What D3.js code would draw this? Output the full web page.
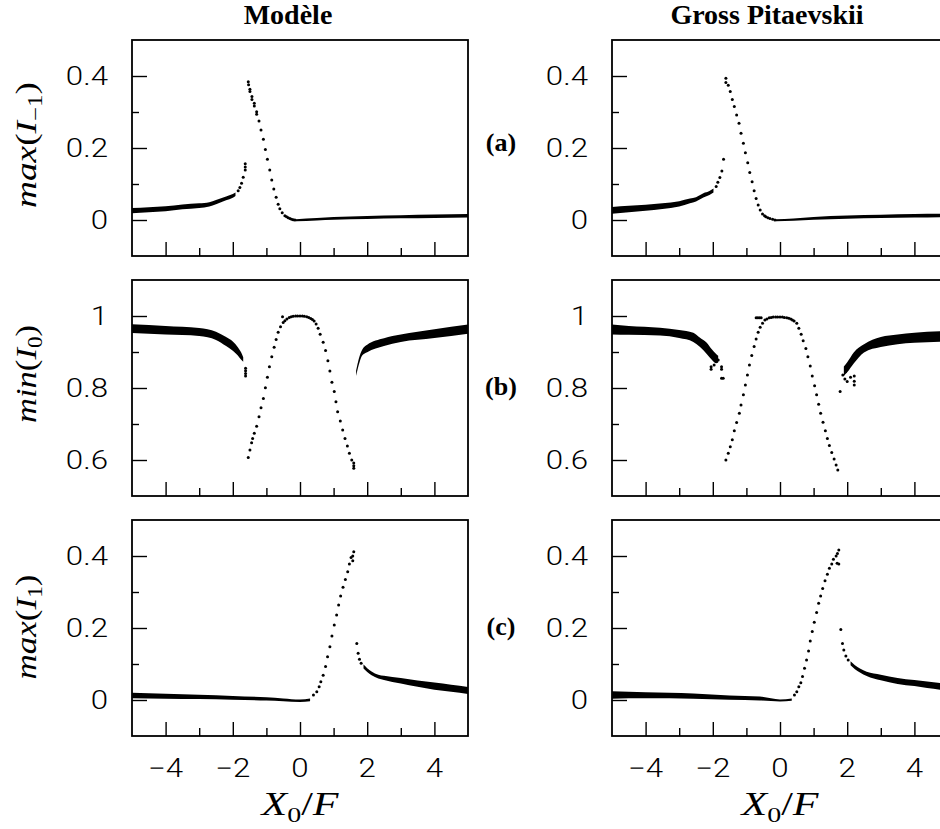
<!DOCTYPE html>
<html>
<head>
<meta charset="utf-8">
<script src="https://cdn.jsdelivr.net/npm/d3@7"></script>
<style>
  body { margin: 0; background: #fff; }
</style>
</head>
<body>
<script>
// ---- data: [x, y] dots and [x, yLow, yHigh] dense bands ----

const columnTitles = ["Modèle", "Gross Pitaevskii"];
const panelTags = ["(a)", "(b)", "(c)"];

const xMajor = [-4, -2, 0, 2, 4];
const xMinor = [-3, -1, 1, 3];
const yDomains = [[-0.1, 0.5], [0.5, 1.1], [-0.1, 0.5]];
const yMajor = [[0, 0.2, 0.4], [0.6, 0.8, 1], [0, 0.2, 0.4]];
const yMinor = [[0.1, 0.3], [0.7, 0.9], [0.1, 0.3]];

// (a) Modèle
const modA_bandL = [[-5,0.020,0.032],[-4.5,0.023,0.034],[-4,0.026,0.037],[-3.5,0.031,0.042],[-3,0.035,0.045],
  [-2.7,0.039,0.048],[-2.5,0.045,0.054],[-2.2,0.056,0.064],[-2.0,0.063,0.071],[-1.92,0.068,0.075]];
const modA_dots = [[-1.84,0.081],[-1.79,0.090],[-1.74,0.102],[-1.69,0.119],[-1.63,0.139],[-1.63,0.147],[-1.63,0.156],
  [-1.54,0.384],[-1.53,0.376],[-1.49,0.363],[-1.49,0.357],[-1.43,0.343],[-1.43,0.335],[-1.36,0.324],[-1.36,0.317],
  [-1.29,0.301],[-1.29,0.294],[-1.22,0.275],[-1.16,0.250],[-1.09,0.224],[-1.03,0.196],[-0.97,0.169],[-0.90,0.139],
  [-0.84,0.111],[-0.78,0.086],[-0.71,0.063],[-0.65,0.044],[-0.60,0.031],[-0.53,0.020],[-0.45,0.012],[-0.40,0.009],
  [-0.35,0.006],[-0.30,0.004],[-0.25,0.002],[-0.20,0.001],[-0.15,0.0]];
const modA_bandR = [[-0.12,-0.002,0.001],[0.5,0.000,0.004],[1,0.002,0.007],[2,0.004,0.010],[3,0.006,0.012],[4,0.007,0.014],[5,0.008,0.015]];

// (a) Gross Pitaevskii
const gpA_bandL = [[-5,0.019,0.035],[-4.5,0.023,0.038],[-4,0.027,0.041],[-3.5,0.032,0.045],[-3,0.039,0.051],
  [-2.68,0.048,0.058],[-2.5,0.053,0.062],[-2.28,0.064,0.073],[-2.1,0.071,0.079],[-1.98,0.078,0.086]];
const gpA_dots = [[-1.90,0.093],[-1.85,0.105],[-1.79,0.118],[-1.73,0.136],[-1.68,0.169],
  [-1.61,0.394],[-1.61,0.382],[-1.54,0.374],[-1.48,0.357],[-1.42,0.335],[-1.36,0.315],[-1.29,0.292],[-1.22,0.269],
  [-1.16,0.241],[-1.09,0.213],[-1.03,0.187],[-0.96,0.159],[-0.90,0.132],[-0.83,0.106],[-0.77,0.081],[-0.71,0.060],
  [-0.65,0.042],[-0.59,0.028],[-0.52,0.017],[-0.46,0.012],[-0.42,0.009],[-0.36,0.006],[-0.30,0.004],[-0.22,0.002],[-0.15,0.0]];
const gpA_bandR = [[-0.12,-0.002,0.001],[0.4,-0.001,0.003],[1,0.002,0.007],[2,0.005,0.011],[3,0.007,0.013],[4,0.008,0.015],[5,0.009,0.016]];

// (b) Modèle
const modB_bandL = [[-5,0.954,0.976],[-4,0.950,0.971],[-3,0.946,0.965],[-2.5,0.935,0.955],[-2.2,0.918,0.940],
  [-2.0,0.905,0.928],[-1.85,0.892,0.912],[-1.75,0.880,0.897],[-1.69,0.874,0.884]];
const modB_dots = [[-1.62,0.855],[-1.62,0.848],[-1.62,0.840],[-1.62,0.833],
  [-1.54,0.607],[-1.49,0.628],[-1.44,0.648],[-1.41,0.660],[-1.36,0.674],[-1.29,0.694],[-1.22,0.720],[-1.16,0.745],
  [-1.09,0.771],[-1.03,0.801],[-0.97,0.830],[-0.91,0.859],[-0.84,0.887],[-0.77,0.913],[-0.71,0.935],[-0.65,0.955],
  [-0.58,0.970],[-0.52,0.998],[-0.50,0.982],[-0.45,0.987],[-0.39,0.992],[-0.32,0.996],[-0.26,0.998],[-0.20,0.999],
  [-0.13,1.0],[-0.07,1.0],[0,1.0],[0.07,1.0],[0.13,0.999],[0.20,0.998],[0.26,0.996],[0.32,0.993],[0.37,0.990],
  [0.42,0.986],[0.48,0.978],[0.54,0.966],[0.60,0.949],[0.69,0.927],[0.76,0.904],[0.83,0.876],[0.89,0.847],
  [0.95,0.816],[1.02,0.790],[1.07,0.762],[1.12,0.734],[1.20,0.708],[1.27,0.683],[1.34,0.660],[1.41,0.639],
  [1.47,0.619],[1.54,0.600],[1.60,0.592],[1.60,0.584],[1.60,0.577]];
const modB_bandR = [[1.67,0.835,0.847],[1.75,0.866,0.880],[1.85,0.892,0.905],[2.0,0.901,0.919],[2.5,0.918,0.937],
  [3,0.929,0.947],[4,0.940,0.962],[5,0.952,0.975]];

// (b) Gross Pitaevskii
const gpB_bandL = [[-5,0.950,0.975],[-4.5,0.949,0.971],[-3.57,0.947,0.966],[-3,0.940,0.960],[-2.58,0.929,0.952],
  [-2.38,0.915,0.938],[-2.18,0.896,0.924],[-2.03,0.880,0.906],[-1.90,0.870,0.893],[-1.84,0.872,0.888]];
const gpB_dots = [[-2.05,0.859],[-2.05,0.852],[-1.96,0.864],[-1.84,0.878],[-1.74,0.859],[-1.74,0.852],[-1.74,0.827],[-1.69,0.827],
  [-1.61,0.600],[-1.54,0.619],[-1.48,0.637],[-1.42,0.656],[-1.36,0.681],[-1.29,0.704],[-1.21,0.730],[-1.16,0.753],
  [-1.09,0.781],[-1.03,0.808],[-0.97,0.836],[-0.91,0.864],[-0.84,0.890],[-0.77,0.915],[-0.71,0.936],[-0.65,0.955],
  [-0.59,0.969],[-0.52,0.980],[-0.71,0.995],[-0.66,0.995],[-0.61,0.995],[-0.56,0.995],
  [-0.45,0.989],[-0.39,0.992],[-0.32,0.995],[-0.26,0.996],[-0.20,0.997],[-0.13,0.997],[-0.07,0.997],[0,0.997],
  [0.07,0.997],[0.13,0.996],[0.20,0.995],[0.26,0.994],[0.32,0.992],[0.37,0.989],[0.42,0.986],[0.50,0.980],
  [0.56,0.966],[0.63,0.949],[0.69,0.931],[0.77,0.910],[0.83,0.887],[0.90,0.861],[0.96,0.833],[1.03,0.806],
  [1.09,0.781],[1.15,0.755],[1.21,0.730],[1.28,0.705],[1.35,0.681],[1.41,0.660],[1.47,0.640],[1.54,0.621],
  [1.61,0.603],[1.67,0.586],[1.72,0.572],
  [1.79,0.790],[1.87,0.836],[1.93,0.825],[2.0,0.818],[2.1,0.830],[2.21,0.808],[2.21,0.819],[2.21,0.833],[1.95,0.845]];
const gpB_bandR = [[1.90,0.835,0.858],[2.0,0.845,0.870],[2.2,0.870,0.898],[2.5,0.900,0.920],[3.0,0.915,0.940],
  [3.5,0.923,0.947],[4.0,0.927,0.952],[4.76,0.930,0.956],[5.0,0.931,0.957]];

// (c) Modèle
const modC_bandL = [[-5,0.006,0.019],[-4,0.005,0.016],[-3,0.004,0.013],[-2,0.002,0.010],[-1,0.000,0.006],
  [-0.5,-0.002,0.003],[0,-0.004,0.0],[0.3,-0.002,0.003]];
const modC_dots = [[0.40,0.014],[0.50,0.023],[0.57,0.037],[0.62,0.051],[0.69,0.069],[0.76,0.093],[0.82,0.120],
  [0.89,0.148],[0.95,0.178],[1.02,0.208],[1.09,0.236],[1.15,0.264],[1.21,0.289],[1.28,0.313],[1.35,0.335],
  [1.42,0.356],[1.47,0.378],[1.52,0.396],[1.57,0.387],[1.57,0.400],[1.60,0.412],
  [1.69,0.157],[1.73,0.130],[1.77,0.113],[1.82,0.102]];
const modC_bandR = [[1.89,0.089,0.097],[2.0,0.079,0.087],[2.13,0.070,0.078],[2.33,0.061,0.069],[2.5,0.057,0.066],
  [3.0,0.047,0.060],[3.5,0.038,0.053],[4.0,0.030,0.047],[4.5,0.024,0.041],[5.0,0.018,0.035]];

// (c) Gross Pitaevskii
const gpC_bandL = [[-5,0.005,0.023],[-4,0.006,0.020],[-2.58,0.005,0.017],[-1.5,0.002,0.011],[-0.6,0.000,0.008],
  [0,-0.003,0.0],[0.35,-0.001,0.003]];
const gpC_dots = [[0.43,0.014],[0.50,0.023],[0.56,0.037],[0.62,0.048],[0.67,0.065],[0.73,0.088],[0.79,0.111],
  [0.85,0.136],[0.90,0.164],[0.96,0.190],[1.02,0.216],[1.09,0.243],[1.15,0.269],[1.21,0.289],[1.27,0.310],
  [1.34,0.331],[1.41,0.349],[1.47,0.366],[1.54,0.378],[1.59,0.391],[1.67,0.400],[1.71,0.407],[1.75,0.417],
  [1.70,0.380],[1.75,0.378],
  [1.81,0.196],[1.86,0.157],[1.90,0.139],[1.96,0.122],[2.03,0.111]];
const gpC_bandR = [[2.1,0.098,0.106],[2.23,0.087,0.095],[2.38,0.078,0.086],[2.58,0.068,0.077],[3.0,0.056,0.069],
  [3.5,0.046,0.060],[4.0,0.040,0.054],[4.76,0.030,0.046],[5.0,0.028,0.044]];

const panels = [
  { row: 0, col: 0, bands: [modA_bandL, modA_bandR], dots: modA_dots },
  { row: 0, col: 1, bands: [gpA_bandL, gpA_bandR], dots: gpA_dots },
  { row: 1, col: 0, bands: [modB_bandL, modB_bandR], dots: modB_dots },
  { row: 1, col: 1, bands: [gpB_bandL, gpB_bandR], dots: gpB_dots },
  { row: 2, col: 0, bands: [modC_bandL, modC_bandR], dots: modC_dots },
  { row: 2, col: 1, bands: [gpC_bandL, gpC_bandR], dots: gpC_dots }
];

// ---- layout ----
const W = 940, H = 829;
const colLeft = [132, 612];
const rowTop = [40, 280, 520];
const pw = 336, ph = 216;
const sansStretch = 1.25;
const serif = "'Liberation Serif', 'Times New Roman', serif";

const svg = d3.select("body").append("svg")
  .attr("width", W).attr("height", H)
  .style("display", "block").style("background", "#fff");

const fmtY = d => d === 0 ? "0" : String(d);
const fmtX = d => d < 0 ? "\u2212" + Math.abs(d) : String(d);

function stretchedLabel(g, x, y, txt, anchor) {
  g.append("g")
    .attr("transform", "translate(" + x + "," + y + ") scale(" + sansStretch + ",1)")
    .append("text")
    .attr("text-anchor", anchor)
    .attr("font-family", "Roboto, 'Liberation Sans', Arial, sans-serif")
    .attr("font-weight", 300)
    .attr("font-size", 25)
    .attr("fill", "#000")
    .text(txt);
}

panels.forEach(p => {
  const x0 = colLeft[p.col], y0 = rowTop[p.row];
  const x = d3.scaleLinear().domain([-5, 5]).range([x0, x0 + pw]);
  const y = d3.scaleLinear().domain(yDomains[p.row]).range([y0 + ph, y0]);
  const g = svg.append("g");

  // dense bands of points
  const area = d3.area()
    .x(d => x(d[0]))
    .y0(d => y(d[1]) + 0.5)
    .y1(d => y(d[2]) - 0.5)
    .curve(d3.curveMonotoneX);
  p.bands.forEach(b => {
    g.append("path").datum(b).attr("d", area).attr("fill", "#000");
  });

  // individual dots
  g.selectAll("circle.pt").data(p.dots).join("circle")
    .attr("class", "pt")
    .attr("cx", d => x(d[0])).attr("cy", d => y(d[1]))
    .attr("r", 1.5).attr("fill", "#000");

  // ticks (inside, on left and bottom only)
  const axL = g.append("g").attr("transform", "translate(" + x0 + ",0)")
    .call(d3.axisLeft(y).tickValues(yMajor[p.row]).tickSize(-15).tickFormat(""));
  const axLm = g.append("g").attr("transform", "translate(" + x0 + ",0)")
    .call(d3.axisLeft(y).tickValues(yMinor[p.row]).tickSize(-7).tickFormat(""));
  const axB = g.append("g").attr("transform", "translate(0," + (y0 + ph) + ")")
    .call(d3.axisBottom(x).tickValues(xMajor).tickSize(-14).tickFormat(""));
  const axBm = g.append("g").attr("transform", "translate(0," + (y0 + ph) + ")")
    .call(d3.axisBottom(x).tickValues(xMinor).tickSize(-8).tickFormat(""));
  [axL, axLm, axB, axBm].forEach(a => {
    a.select(".domain").remove();
    a.selectAll("line").attr("stroke", "#000").attr("stroke-width", 1.4);
  });

  // frame
  g.append("rect")
    .attr("x", x0).attr("y", y0).attr("width", pw).attr("height", ph)
    .attr("fill", "none").attr("stroke", "#000").attr("stroke-width", 1.8);

  // tick labels
  yMajor[p.row].forEach(v => stretchedLabel(g, x0 - 24, y(v) + 9, fmtY(v), "end"));
  if (p.row === 2) {
    xMajor.forEach(v => stretchedLabel(g, x(v), 777, fmtX(v), "middle"));
  }
});

// column titles
const titleX = [288, 767];
columnTitles.forEach((t, i) => {
  svg.append("text")
    .attr("x", titleX[i]).attr("y", 24)
    .attr("text-anchor", "middle")
    .attr("font-family", serif)
    .attr("font-weight", "bold").attr("font-size", 28)
    .text(t);
});

// panel tags
const tagY = [151, 395, 635];
panelTags.forEach((t, i) => {
  svg.append("text")
    .attr("x", 501).attr("y", tagY[i])
    .attr("text-anchor", "middle")
    .attr("font-family", serif)
    .attr("font-weight", "bold").attr("font-size", 26)
    .text(t);
});

// y axis labels (math style)
const yLabels = [
  { c: 145, len: 126, fn: "max", sub: "\u22121" },
  { c: 374, len: 98, fn: "min", sub: "0" },
  { c: 627, len: 105, fn: "max", sub: "1" }
];
yLabels.forEach(l => {
  const t = svg.append("text")
    .attr("transform", "translate(36," + l.c + ") rotate(-90)")
    .attr("text-anchor", "middle")
    .attr("font-family", serif).attr("font-size", 30)
    .attr("textLength", l.len).attr("lengthAdjust", "spacingAndGlyphs");
  t.append("tspan").attr("font-style", "italic").text(l.fn);
  t.append("tspan").text("(");
  t.append("tspan").attr("font-style", "italic").text("I");
  t.append("tspan").attr("font-size", 20).attr("dy", 6).text(l.sub);
  t.append("tspan").attr("dy", -6).text(")");
});

// x axis labels
[300, 780].forEach(cx => {
  const t = svg.append("text")
    .attr("x", cx).attr("y", 815)
    .attr("text-anchor", "middle")
    .attr("font-family", serif).attr("font-size", 33)
    .attr("textLength", 77).attr("lengthAdjust", "spacingAndGlyphs");
  t.append("tspan").attr("font-style", "italic").text("X");
  t.append("tspan").attr("font-size", 22).attr("dy", 7).text("0");
  t.append("tspan").attr("dy", -7).text("/");
  t.append("tspan").attr("font-style", "italic").text("F");
});
</script>
</body>
</html>
